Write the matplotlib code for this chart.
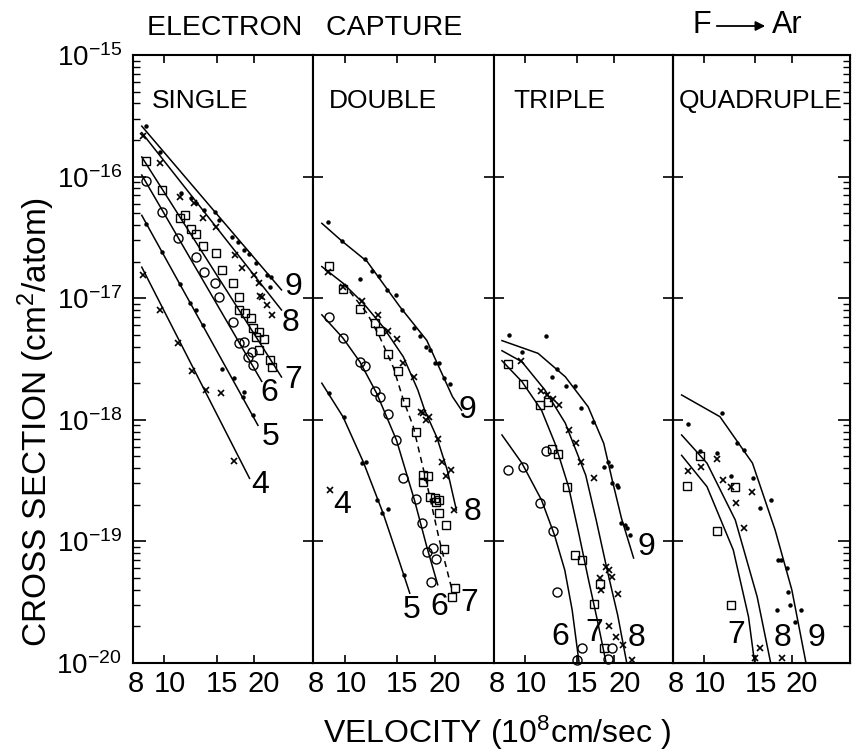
import matplotlib
matplotlib.use('Agg')
import matplotlib.pyplot as plt
from matplotlib.ticker import FixedLocator, FixedFormatter, NullLocator, LogLocator, NullFormatter
from matplotlib.transforms import ScaledTranslation

plt.rcParams['font.family'] = ['Liberation Sans', 'DejaVu Sans']
plt.rcParams['mathtext.default'] = 'regular'

# axis ticks
x_ticks = [10, 15, 20]
x_tick_labels = ['10', '15', '20']
y_decades = [1e-20, 1e-19, 1e-18, 1e-17, 1e-16, 1e-15]
y_tick_labels = ['$10^{-20}$', '$10^{-19}$', '$10^{-18}$', '$10^{-17}$', '$10^{-16}$', '$10^{-15}$']
panel_titles = ['SINGLE', 'DOUBLE', 'TRIPLE', 'QUADRUPLE']

# ---- SINGLE capture (velocity 1e8 cm/s, cross section cm2/atom)
single_9 = [(8.7, 2.6e-16), (9.7, 1.6e-16), (11.4, 7.4e-17), (12.3, 6.7e-17), (12.8, 6.1e-17), (13.6, 5.3e-17),
            (14.8, 5.1e-17), (15.3, 4.4e-17), (16.9, 3.2e-17), (17.6, 2.9e-17), (18.5, 2.5e-17), (19.2, 2.3e-17),
            (20.3, 1.95e-17), (22.0, 1.55e-17), (22.8, 1.5e-17), (22.6, 1.24e-17)]
single_9_fit = [(8.4, 2.6e-16), (24.7, 1.17e-17)]
single_8 = [(8.5, 2.15e-16), (9.7, 1.3e-16), (11.25, 6.8e-17), (12.6, 6.1e-17), (13.5, 4.55e-17), (14.9, 3.85e-17),
            (17.3, 2.25e-17), (18.2, 1.76e-17), (20.0, 1.55e-17), (20.7, 1.33e-17), (21.0, 1.05e-17), (21.3, 1.03e-17),
            (22.0, 8.8e-18), (22.9, 7.3e-18)]
single_8_fit = [(8.4, 2.3e-16), (24.7, 8.0e-18)]
single_7 = [(8.7, 1.34e-16), (9.85, 7.76e-17), (11.25, 4.6e-17), (11.7, 4.8e-17), (12.3, 3.7e-17), (12.8, 3.4e-17),
            (13.5, 2.67e-17), (14.9, 2.35e-17), (15.6, 1.71e-17), (17.0, 1.34e-17), (17.8, 1.03e-17), (17.8, 8.0e-18),
            (18.7, 7.5e-18), (19.5, 6.9e-18), (19.8, 5.7e-18), (20.7, 5.3e-18), (21.5, 4.6e-18), (20.3, 4.8e-18),
            (20.8, 3.75e-18), (22.6, 3.1e-18), (23.0, 2.7e-18)]
single_7_fit = [(8.4, 1.45e-16), (24.7, 2.25e-18)]
single_6 = [(8.65, 9.2e-17), (9.85, 5.1e-17), (11.1, 3.1e-17), (12.8, 2.2e-17), (13.6, 1.65e-17), (14.8, 1.34e-17),
            (15.3, 1.03e-17), (17.0, 6.4e-18), (17.8, 4.3e-18), (18.5, 4.4e-18), (19.0, 3.3e-18), (19.6, 3.6e-18),
            (19.8, 2.8e-18)]
single_6_fit = [(8.4, 1.03e-16), (21.2, 2.07e-18)]
single_5 = [(8.7, 4.05e-17), (9.85, 2.4e-17), (11.25, 1.3e-17), (12.2, 9.2e-18), (12.8, 8.0e-18), (13.5, 6.0e-18),
            (15.6, 2.6e-18), (17.1, 2.2e-18), (18.5, 1.7e-18), (18.4, 1.55e-18), (19.8, 1.1e-18)]
single_5_fit = [(8.4, 4.8e-17), (20.6, 9.0e-19)]
single_4 = [(8.47, 1.55e-17), (9.7, 8.0e-18), (11.1, 4.3e-18), (12.4, 2.5e-18), (13.8, 1.76e-18), (15.5, 1.65e-18),
            (17.1, 4.6e-19)]
single_4_fit = [(8.4, 1.8e-17), (19.3, 3.3e-19)]

# ---- DOUBLE capture
double_9 = [(8.83, 4.26e-17), (9.77, 2.97e-17), (11.7, 2.09e-17), (12.35, 1.67e-17), (13.0, 1.52e-17),
            (11.3, 1.43e-17), (13.9, 1.17e-17), (14.9, 1.06e-17), (15.5, 8.0e-18), (17.1, 5.7e-18), (17.9, 4.9e-18),
            (18.7, 4.0e-18), (19.2, 3.75e-18), (20.0, 2.95e-18), (20.6, 2.95e-18), (21.4, 2.2e-18), (22.4, 1.97e-18)]
double_9_fit = [(8.4, 4.13e-17), (9.77, 2.97e-17), (11.9, 2.0e-17), (15.3, 8.5e-18), (18.8, 4.5e-18),
                (22.9, 1.55e-18), (24.55, 1.2e-18)]
double_8 = [(8.83, 1.65e-17), (9.88, 1.23e-17), (11.4, 9.4e-18), (12.95, 7.3e-18), (14.0, 5.4e-18), (15.0, 4.6e-18),
            (15.7, 2.95e-18), (17.1, 2.26e-18), (18.25, 1.13e-18), (17.95, 1.16e-18), (18.7, 1.0e-18),
            (19.1, 1.06e-18), (20.45, 7.0e-19), (21.1, 4.5e-19), (22.7, 3.86e-19), (21.8, 3.45e-19), (23.1, 1.81e-19)]
double_8_fit = [(8.4, 1.82e-17), (9.88, 1.33e-17), (11.55, 9.1e-18), (13.45, 5.8e-18), (15.7, 3.3e-18),
                (17.55, 1.76e-18), (18.5, 1.2e-18), (20.3, 7.2e-19), (22.0, 3.86e-19), (23.6, 1.81e-19)]
double_7 = [(8.9, 1.84e-17), (9.85, 1.18e-17), (11.3, 8.15e-18), (12.6, 6.3e-18), (13.1, 5.4e-18), (14.0, 3.5e-18),
            (15.1, 2.5e-18), (15.9, 1.41e-18), (17.35, 8.0e-19), (18.25, 3.5e-19), (18.95, 3.45e-19),
            (18.25, 3.1e-19), (19.3, 2.33e-19), (20.0, 2.26e-19), (20.7, 2.19e-19), (20.25, 2.12e-19),
            (20.6, 1.7e-19), (21.8, 1.36e-19), (21.4, 8.6e-20), (23.3, 4.1e-20), (22.9, 3.5e-20)]
double_7_fit = [(9.88, 1.33e-17), (11.9, 7.5e-18), (13.1, 4.8e-18), (14.55, 2.7e-18), (15.7, 1.46e-18),
                (16.95, 8.8e-19), (18.8, 3.0e-19), (20.7, 1.03e-19), (23.0, 3.7e-20)]
double_6 = [(8.9, 7.05e-18), (9.85, 4.7e-18), (11.25, 3.0e-18), (11.7, 2.77e-18), (12.6, 1.73e-18), (13.1, 1.55e-18),
            (14.0, 1.12e-18), (14.9, 6.8e-19), (15.7, 3.3e-19), (17.25, 2.22e-19), (18.1, 1.41e-19),
            (18.85, 8.2e-20), (19.75, 8.8e-20), (20.15, 7.1e-20), (19.4, 4.6e-20)]
double_6_fit = [(8.4, 7.3e-18), (9.88, 4.7e-18), (11.25, 3.0e-18), (12.8, 1.65e-18), (14.9, 6.8e-19),
                (17.1, 2.19e-19), (18.8, 9.05e-20), (20.45, 4.4e-20)]
double_5 = [(8.9, 1.65e-18), (9.98, 1.06e-18), (11.4, 4.44e-19), (11.8, 4.5e-19), (12.8, 2.19e-19), (13.3, 1.7e-19),
            (14.0, 1.84e-19), (15.8, 5.3e-20)]
double_5_fit = [(8.4, 2.0e-18), (9.88, 1.06e-18), (11.55, 4.5e-19), (13.45, 1.7e-19), (15.3, 6.6e-20),
                (16.5, 3.75e-20)]
double_4 = [(8.94, 2.65e-19)]

# ---- TRIPLE capture
triple_9 = [(8.8, 4.98e-18), (11.75, 4.89e-18), (9.75, 3.59e-18), (12.8, 2.62e-18), (12.3, 2.26e-18), (13.7, 1.9e-18),
            (14.75, 1.9e-18), (15.45, 1.24e-18), (16.9, 9.6e-19), (19.0, 4.5e-19), (19.4, 4.2e-19), (18.4, 4.1e-19),
            (19.55, 3.04e-19), (20.4, 2.91e-19), (20.5, 2.8e-19), (21.0, 1.41e-19), (21.75, 1.36e-19),
            (22.0, 1.28e-19), (22.5, 1.13e-19)]
triple_9_fit = [(8.35, 4.48e-18), (11.05, 3.52e-18), (13.65, 2.26e-18), (16.3, 1.28e-18), (18.4, 6.4e-19),
                (19.65, 3.2e-19), (21.1, 1.56e-19), (23.2, 7.3e-20)]
triple_8 = [(9.7, 3.05e-18), (11.3, 1.73e-18), (11.85, 1.6e-18), (12.4, 1.47e-18), (13.05, 1.32e-18), (14.0, 8.2e-19),
            (14.8, 6.4e-19), (15.45, 4.5e-19), (17.0, 3.3e-19), (18.7, 6.2e-20), (19.15, 5.8e-20), (19.65, 5.1e-20),
            (17.9, 5.0e-20), (18.0, 4.0e-20), (20.5, 3.7e-20), (19.15, 2.0e-20), (20.2, 1.64e-20), (21.45, 1.4e-20),
            (22.9, 1.06e-20)]
triple_8_fit = [(8.35, 3.7e-18), (9.75, 3.0e-18), (11.65, 1.76e-18), (13.65, 9.4e-19), (16.0, 3.5e-19),
                (17.35, 1.5e-19), (18.9, 5.8e-20), (20.5, 2.48e-20), (22.0, 1.0e-20)]
triple_7 = [(8.75, 2.88e-18), (9.8, 1.97e-18), (11.2, 1.32e-18), (11.95, 1.41e-18), (12.35, 5.7e-19), (12.95, 5.2e-19),
            (13.85, 2.79e-19), (14.75, 7.7e-20), (15.6, 7.0e-20), (17.9, 4.5e-20), (17.0, 3.05e-20), (18.5, 1.32e-20)]
triple_7_fit = [(8.35, 3.06e-18), (9.75, 2.06e-18), (11.35, 1.2e-18), (12.6, 6.4e-19), (14.0, 2.82e-19),
                (15.2, 1.13e-19), (16.3, 5.0e-20), (17.5, 2.26e-20), (18.75, 1.0e-20)]
triple_6 = [(8.75, 3.86e-19), (9.8, 4.1e-19), (11.75, 5.5e-19), (11.2, 2.08e-19), (12.4, 1.22e-19), (12.8, 3.86e-20),
            (15.5, 1.32e-20), (14.9, 1.06e-20), (19.0, 1.07e-20), (19.65, 1.32e-20)]
triple_6_fit = [(8.35, 7.5e-19), (9.75, 4.4e-19), (11.35, 2.19e-19), (12.55, 1.13e-19), (13.6, 5.8e-20),
                (14.4, 2.73e-20), (15.2, 1.0e-20)]

# ---- QUADRUPLE capture
quad_9 = [(8.8, 9.2e-19), (11.55, 1.13e-18), (9.7, 5.5e-19), (11.1, 5.3e-19), (12.95, 6.4e-19), (13.75, 5.65e-19),
          (12.4, 3.45e-19), (14.75, 3.3e-19), (15.5, 1.87e-19), (17.0, 2.19e-19), (17.9, 7.0e-20), (18.3, 7.0e-20),
          (19.15, 6.0e-20), (19.4, 3.86e-20), (19.65, 3.0e-20), (17.75, 2.73e-20), (21.45, 2.73e-20), (20.4, 2.19e-20)]
quad_9_fit = [(8.4, 1.6e-18), (11.35, 1.06e-18), (14.65, 4.4e-19), (17.5, 1.24e-19), (19.95, 4.0e-20), (22.3, 1.0e-20)]
quad_8 = [(8.8, 3.8e-19), (9.75, 4.1e-19), (11.05, 4.8e-19), (11.65, 3.2e-19), (12.4, 2.82e-19), (12.85, 2.06e-19),
          (13.75, 1.28e-19), (14.65, 2.56e-19), (15.5, 1.32e-20), (14.9, 1.09e-20), (18.4, 1.09e-20)]
quad_8_fit = [(8.4, 7.5e-19), (10.25, 4.4e-19), (12.8, 1.5e-19), (15.2, 3.5e-20), (16.9, 1.0e-20)]
quad_7 = [(8.75, 2.88e-19), (9.7, 5.0e-19), (12.8, 2.79e-19), (11.1, 1.22e-19), (12.4, 3.0e-20)]
quad_7_fit = [(8.4, 5.1e-19), (10.25, 2.82e-19), (12.6, 8.5e-20), (14.2, 2.4e-20), (14.9, 1.0e-20)]

# curve number labels (charge state) per panel: (text, velocity, cross section)
single_labels = [('9', 27.1, 1.24e-17), ('8', 26.5, 6.25e-18), ('7', 27.1, 2.12e-18),
                 ('6', 22.4, 1.66e-18), ('5', 22.7, 7.2e-19), ('4', 21.0, 2.9e-19)]
double_labels = [('9', 25.7, 1.2e-18), ('8', 26.7, 1.74e-19), ('7', 26.1, 3.1e-20),
                 ('6', 20.7, 2.9e-20), ('5', 16.7, 2.73e-20), ('4', 9.85, 2.0e-19)]
triple_labels = [('9', 25.7, 9.0e-20), ('8', 23.8, 1.6e-20), ('7', 17.1, 1.77e-20), ('6', 13.1, 1.64e-20)]
quad_labels = [('7', 12.9, 1.7e-20), ('8', 18.5, 1.6e-20), ('9', 24.2, 1.6e-20)]

MARK = {
    'dot': dict(marker='o', ms=3.2, mfc='black', mec='black', mew=0),
    'x': dict(marker='x', ms=4.8, mec='black', mew=1.2),
    'sq': dict(marker='s', ms=6, mfc='none', mec='black', mew=1.0),
    'ci': dict(marker='o', ms=6.5, mfc='none', mec='black', mew=1.0),
}

panels = [
    [(single_9, single_9_fit, 'dot', '-'), (single_8, single_8_fit, 'x', '-'), (single_7, single_7_fit, 'sq', '-'),
     (single_6, single_6_fit, 'ci', '-'), (single_5, single_5_fit, 'dot', '-'), (single_4, single_4_fit, 'x', '-')],
    [(double_9, double_9_fit, 'dot', '-'), (double_8, double_8_fit, 'x', '-'), (double_7, double_7_fit, 'sq', '--'),
     (double_6, double_6_fit, 'ci', '-'), (double_5, double_5_fit, 'dot', '-'), (double_4, None, 'x', '-')],
    [(triple_9, triple_9_fit, 'dot', '-'), (triple_8, triple_8_fit, 'x', '-'), (triple_7, triple_7_fit, 'sq', '-'),
     (triple_6, triple_6_fit, 'ci', '-')],
    [(quad_9, quad_9_fit, 'dot', '-'), (quad_8, quad_8_fit, 'x', '-'), (quad_7, quad_7_fit, 'sq', '-')],
]
labels = [single_labels, double_labels, triple_labels, quad_labels]

W, H = 852, 752
fig = plt.figure(figsize=(W / 100, H / 100), dpi=100)
edges = [133, 313, 494, 673, 850]
top, bottom = 55, 663
title_x = [0.105, 0.09, 0.11, 0.035]

for i in range(4):
    ax = fig.add_axes([edges[i] / W, 1 - bottom / H, (edges[i + 1] - edges[i]) / W, (bottom - top) / H])
    ax.set_xscale('log')
    ax.set_yscale('log')
    ax.set_xlim(7.85, 31.5)
    ax.set_ylim(1e-20, 1e-15)
    for s in ax.spines.values():
        s.set_linewidth(1.5)

    for pts, fit, mk, ls in panels[i]:
        if fit is not None:
            fv, fs = zip(*fit)
            ax.plot(fv, fs, color='black', lw=1.1, ls=ls, dashes=(4, 3) if ls == '--' else (None, None))
        pv, ps = zip(*pts)
        ax.plot(pv, ps, ls='none', clip_on=False, **MARK[mk])

    for txt, v, s in labels[i]:
        ax.text(v, s, txt, fontsize=23, ha='center', va='center')

    ax.text(title_x[i], 0.925, panel_titles[i], transform=ax.transAxes, fontsize=19, va='center', ha='left')

    # x ticks
    ax.xaxis.set_major_locator(FixedLocator(x_ticks))
    ax.xaxis.set_major_formatter(FixedFormatter(x_tick_labels))
    ax.xaxis.set_minor_locator(FixedLocator([8]))
    ax.xaxis.set_minor_formatter(FixedFormatter(['8']))
    ax.tick_params(axis='x', which='major', direction='in', top=True, bottom=True, length=6, width=1.2,
                   labelsize=21, pad=5)
    ax.tick_params(axis='x', which='minor', length=0, labelsize=21, pad=5)
    for lab, dx in zip(ax.get_xticklabels(), [6, 5, 10]):
        lab.set_transform(lab.get_transform() + ScaledTranslation(dx / 100, 0, fig.dpi_scale_trans))

    # y ticks
    ax.yaxis.set_major_locator(FixedLocator(y_decades))
    if i == 0:
        ax.yaxis.set_major_formatter(FixedFormatter(y_tick_labels))
        ax.yaxis.set_minor_locator(LogLocator(base=10, subs=range(2, 10), numticks=20))
        ax.yaxis.set_minor_formatter(NullFormatter())
        ax.tick_params(axis='y', which='major', direction='in', left=True, right=False, length=9, width=1.2,
                       labelsize=20, pad=8)
        ax.tick_params(axis='y', which='minor', direction='in', left=True, right=False, length=5, width=1.0)
    else:
        ax.yaxis.set_major_formatter(NullFormatter())
        ax.yaxis.set_minor_locator(NullLocator())
        ax.tick_params(axis='y', which='major', direction='inout', left=True, right=False, length=15, width=1.2)
    if i == 3:
        axr = ax.twinx()
        axr.set_yscale('log')
        axr.set_ylim(1e-20, 1e-15)
        axr.yaxis.set_major_locator(FixedLocator(y_decades))
        axr.yaxis.set_major_formatter(NullFormatter())
        axr.yaxis.set_minor_locator(LogLocator(base=10, subs=range(2, 10), numticks=20))
        axr.yaxis.set_minor_formatter(NullFormatter())
        axr.tick_params(axis='y', which='major', direction='in', length=9, width=1.2)
        axr.tick_params(axis='y', which='minor', direction='in', length=5, width=1.0)

fig.text(147 / W, 1 - 28 / H, 'ELECTRON   CAPTURE', fontsize=20.5, ha='left', va='center')
fig.text(711 / W, 1 - 25 / H, 'F', fontsize=22, ha='right', va='center')
fig.text(772 / W, 1 - 25 / H, 'Ar', fontsize=22, ha='left', va='center')
fig.add_artist(matplotlib.patches.FancyArrowPatch((714, H - 26), (768, H - 26), transform=None,
                                                  arrowstyle='-|>', mutation_scale=14, lw=1.3, color='black'))
fig.text(36 / W, 1 - 422 / H, 'CROSS SECTION (cm$^2$/atom)', fontsize=24, rotation=90, ha='center', va='center')
fig.text(497 / W, 1 - 733 / H, 'VELOCITY (10$^8$cm/sec )', fontsize=23, ha='center', va='center')

fig.savefig('out.png', dpi=100)
